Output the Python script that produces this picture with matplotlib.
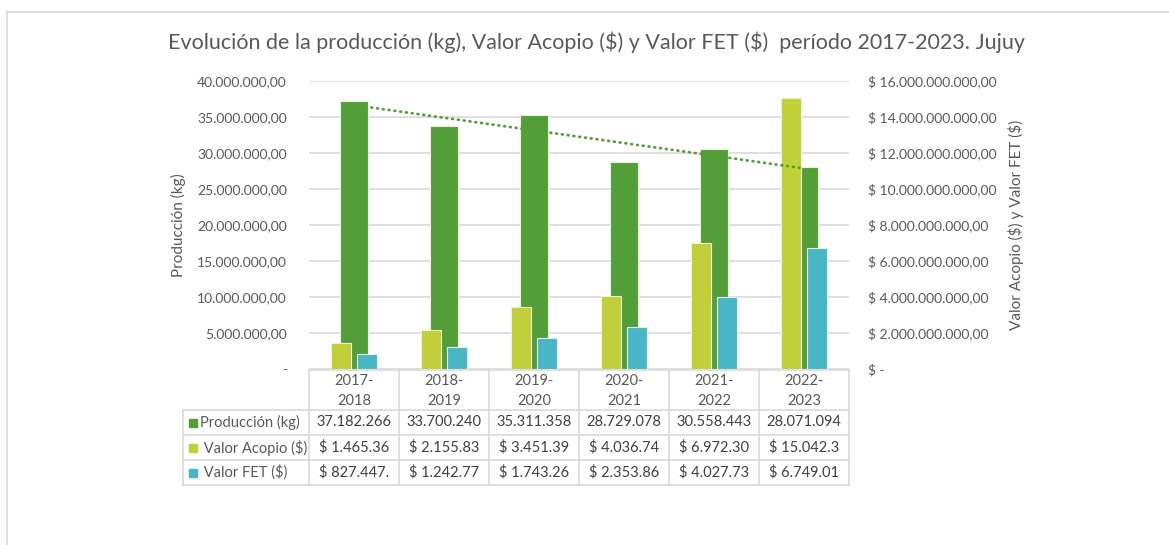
import numpy as np
import matplotlib
matplotlib.use("Agg")
import matplotlib.pyplot as plt
from matplotlib.patches import Rectangle
from matplotlib.lines import Line2D
from matplotlib.ticker import FuncFormatter, MultipleLocator

plt.rcParams['font.family'] = ['Lato', 'DejaVu Sans']
plt.rcParams['text.parse_math'] = False

# ---------------- data ----------------
categories = ["2017-\n2018", "2018-\n2019", "2019-\n2020", "2020-\n2021", "2021-\n2022", "2022-\n2023"]
produccion = [37182266, 33700240, 35311358, 28729078, 30558443, 28071094]
valor_acopio = [1465360000, 2155830000, 3451390000, 4036740000, 6972300000, 15042300000]
valor_fet = [827447000, 1242770000, 1743260000, 2353860000, 4027730000, 6749010000]
series_names = ["Producción (kg)", "Valor Acopio ($)", "Valor FET ($)"]

title = "Evolución de la producción (kg), Valor Acopio ($) y Valor FET ($)  período 2017-2023. Jujuy"

C_PROD = "#549E39"
C_ACO = "#C0CF3A"
C_FET = "#4AB5C4"
GRID = "#D9D9D9"
TXT = "#595959"
TXT2 = "#404040"

W, H = 1169, 545
fig = plt.figure(figsize=(W / 100, H / 100), dpi=100)

def fx(x):
    return x / W

def fy(y):
    return 1 - y / H

# chart outer border
fig.add_artist(Line2D([fx(7), fx(7)], [fy(12), fy(560)], color=GRID, lw=1.2, transform=fig.transFigure))
fig.add_artist(Line2D([fx(7), fx(1180)], [fy(12), fy(12)], color=GRID, lw=1.2, transform=fig.transFigure))

L, R, T, B = 309, 849, 81, 369
ax = fig.add_axes([fx(L), fy(B), (R - L) / W, (B - T) / H])
ax2 = ax.twinx()

x = np.arange(len(categories))

ax.bar(x, produccion, width=0.32, color=C_PROD, edgecolor="#E8F2E0", linewidth=0.8, zorder=2)
ax2.bar(x - 0.143, valor_acopio, width=0.22, color=C_ACO, edgecolor="#F0F4D0", linewidth=0.8, zorder=2)
ax2.bar(x + 0.143, valor_fet, width=0.22, color=C_FET, edgecolor="#E0F2F5", linewidth=0.8, zorder=2)

# linear trend of production
coef = np.polyfit(x, produccion, 1)
xt = np.array([x[0], x[-1]])
ax2.plot(xt, np.polyval(coef, xt), transform=ax.transData, color=C_PROD,
         lw=2.0, linestyle=(0, (0.3, 1.8)), dash_capstyle="round", zorder=5)

ax.set_xlim(-0.5, len(categories) - 0.5)
ax.set_ylim(0, 40000000)
ax2.set_ylim(0, 16000000000)
ax.yaxis.set_major_locator(MultipleLocator(5000000))
ax2.yaxis.set_major_locator(MultipleLocator(2000000000))

def fmt_num(v, dec=2):
    s = f"{v:,.{dec}f}"
    return s.replace(",", "X").replace(".", ",").replace("X", ".")

ax.yaxis.set_major_formatter(FuncFormatter(lambda v, p: "-" if v == 0 else fmt_num(v)))
ax2.yaxis.set_major_formatter(FuncFormatter(lambda v, p: "$ -" if v == 0 else "$ " + fmt_num(v)))

ax.grid(axis="y", color=GRID, lw=1.2, zorder=0)
ax.set_axisbelow(True)
for a in (ax, ax2):
    for s in a.spines.values():
        s.set_visible(False)
    a.tick_params(axis="both", length=0, labelsize=10, colors=TXT)
ax.tick_params(axis="y", pad=16)
ax2.tick_params(axis="y", pad=14)
ax.set_xticks([])

ax.set_ylabel("Producción (kg)", fontsize=11, color=TXT)
ax.yaxis.set_label_coords((186 - L) / (R - L), 0.5)
ax2.set_ylabel("Valor Acopio ($) y Valor FET ($)", fontsize=11, color=TXT, rotation=90)
ax2.yaxis.set_label_coords((1008 - L) / (R - L), 0.5)

fig.text(fx(597), fy(42), title, ha="center", va="center", fontsize=15.5, color=TXT)

# ---------------- data table ----------------
n = len(categories)
cw = (R - L) / n
col_x = [L + i * cw for i in range(n + 1)]
row_y = [370, 410, 435, 460, 485]
TL = 183

def hline(x0, x1, y):
    fig.add_artist(Line2D([fx(x0), fx(x1)], [fy(y), fy(y)], color=GRID, lw=1.2, transform=fig.transFigure))

def vline(x, y0, y1):
    fig.add_artist(Line2D([fx(x), fx(x)], [fy(y0), fy(y1)], color=GRID, lw=1.2, transform=fig.transFigure))

hline(L, R, row_y[0])
for yy in row_y[1:]:
    hline(TL, R, yy)
for cx in col_x:
    vline(cx, row_y[0], row_y[-1])
vline(TL, row_y[1], row_y[-1])

for i, c in enumerate(categories):
    fig.text(fx(col_x[i] + cw / 2), fy((row_y[0] + row_y[1]) / 2 + 1), c, ha="center", va="center",
             fontsize=10.5, color=TXT, linespacing=1.5)

def fmt_money(v):
    return ("$ " + fmt_num(v))[:10]

rows = [
    [fmt_num(v, 0) for v in produccion],
    [fmt_money(v) for v in valor_acopio],
    [fmt_money(v) for v in valor_fet],
]
colors = [C_PROD, C_ACO, C_FET]
for r in range(3):
    yc = (row_y[r + 1] + row_y[r + 2]) / 2
    fig.add_artist(Rectangle((fx(189), fy(yc + 4)), 8 / W, 8 / H, color=colors[r],
                             transform=fig.transFigure))
    lab = series_names[r] if r == 0 else " " + series_names[r]
    fig.text(fx(200), fy(yc), lab, ha="left", va="center", fontsize=10.5, color=TXT)
    for i in range(n):
        fig.text(fx(col_x[i] + cw / 2), fy(yc), rows[r][i], ha="center", va="center",
                 fontsize=10.5, color=TXT2)

fig.savefig("out.png", dpi=100)
